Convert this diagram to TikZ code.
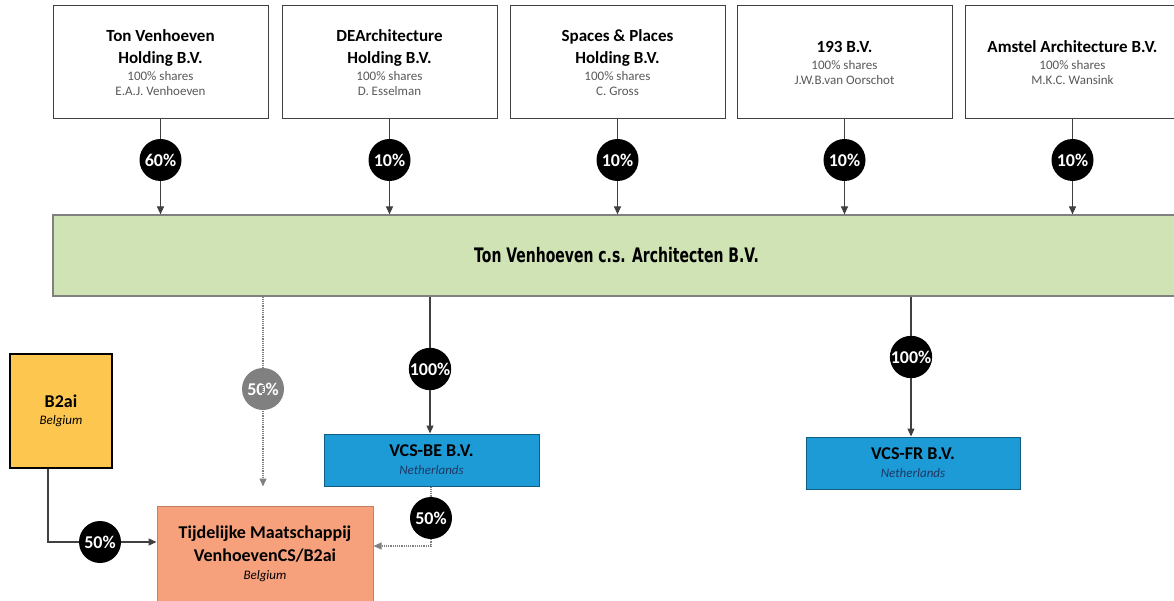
\documentclass[tikz,border=0pt]{standalone}
\usepackage{fontspec}
\setmainfont{Carlito}
\newfontfamily\bannerfont{DejaVu Sans}
\usepackage{graphicx}
\usepackage{tikz}
\usetikzlibrary{positioning,calc,arrows.meta}
\usepackage{xcolor}
\definecolor{boxline}{RGB}{64,64,64}
\definecolor{infogray}{RGB}{89,89,89}
\definecolor{linegray}{RGB}{64,64,64}
\definecolor{dotgray}{RGB}{128,128,128}
\definecolor{vcsgreen}{RGB}{208,227,180}
\definecolor{bgyellow}{RGB}{253,199,79}
\definecolor{tmsalmon}{RGB}{246,160,124}
\definecolor{vcsblue}{RGB}{28,155,214}
\definecolor{navytext}{RGB}{31,56,100}

\newcommand{\hname}[1]{{\fontsize{17}{17}\selectfont\bfseries #1}}
\newcommand{\hinfo}[1]{{\color{infogray}#1}}
\newcommand{\cname}[1]{{\fontsize{18}{18}\selectfont\bfseries #1}}
\newcommand{\cinfo}[1]{{\itshape #1}}

\tikzset{
  holding/.style={draw=boxline, fill=white, line width=1pt, minimum width=215pt,
    minimum height=113pt, align=center, inner sep=0pt, font=\fontsize{13}{15}\selectfont},
  sub/.style={draw=boxline, line width=1pt, align=center, inner sep=0pt,
    font=\fontsize{13}{15}\selectfont},
  share/.style={circle, fill=black, text=white, minimum size=42pt, inner sep=0pt,
    font=\fontsize{18}{18}\selectfont\bfseries},
  conn/.style={draw=linegray, line width=1.2pt},
  dotconn/.style={draw=dotgray, line width=1.2pt, densely dotted},
  arr/.style={-{Triangle[length=8pt,width=7pt]}},
}

\begin{document}
\begin{tikzpicture}[x=1pt,y=-1pt]
\useasboundingbox (0,0) rectangle (1174,601);
\clip (0,0) rectangle (1174,601);

% Holdings
\node[holding] (h1) at (160.5,62.5) {\hname{Ton Venhoeven}\\[7pt]\hname{Holding B.V.}\\[2pt]\hinfo{100\% shares}\\\hinfo{E.A.J. Venhoeven}};
\node[holding] (h2) at (389.5,62.5) {\hname{DEArchitecture}\\[7pt]\hname{Holding B.V.}\\[2pt]\hinfo{100\% shares}\\\hinfo{D. Esselman}};
\node[holding] (h3) at (617.5,62.5) {\hname{Spaces \& Places}\\[7pt]\hname{Holding B.V.}\\[2pt]\hinfo{100\% shares}\\\hinfo{C. Gross}};
\node[holding] (h4) at (844.5,62.5) {\hname{193 B.V.}\\[2pt]\hinfo{100\% shares}\\\hinfo{J.W.B.van Oorschot}};
\node[holding] (h5) at (1072.5,62.5) {\hname{Amstel Architecture B.V.}\\[2pt]\hinfo{100\% shares}\\\hinfo{M.K.C. Wansink}};

% Main company
\node[draw=dotgray, fill=vcsgreen, line width=1.2pt, minimum width=1127pt, minimum height=81pt, inner sep=0pt] (tv) at (616.5,255.5)
  {\bannerfont\fontsize{20}{20}\selectfont\bfseries\scalebox{0.7}[1]{Ton Venhoeven c.s. Architecten B.V.}};

% Shares of the holdings
\node[share] (p1) at (160.5,160) {60\%};
\node[share] (p2) at (389.5,160) {10\%};
\node[share] (p3) at (617.5,160) {10\%};
\node[share] (p4) at (844.5,160) {10\%};
\node[share] (p5) at (1072.5,160) {10\%};

\draw[conn] (h1) -- (p1);
\draw[conn] (h2) -- (p2);
\draw[conn] (h3) -- (p3);
\draw[conn] (h4) -- (p4);
\draw[conn] (h5) -- (p5);
\draw[conn,arr] (p1) -- (p1 |- tv.north);
\draw[conn,arr] (p2) -- (p2 |- tv.north);
\draw[conn,arr] (p3) -- (p3 |- tv.north);
\draw[conn,arr] (p4) -- (p4 |- tv.north);
\draw[conn,arr] (p5) -- (p5 |- tv.north);

% Subsidiaries
\node[sub, draw=black, line width=2.2pt, fill=bgyellow, minimum width=102pt, minimum height=114pt] (b2) at (61,411)
  {\cname{B2ai}\\[2pt]\cinfo{Belgium}};
\node[sub, draw=tmsalmon!80!black, fill=tmsalmon, minimum width=216pt, minimum height=95pt] (tm) at (265,553.5)
  {\cname{Tijdelijke Maatschappij}\\[6pt]\cname{VenhoevenCS/B2ai}\\[3pt]\cinfo{Belgium}};
\node[sub, draw=vcsblue!60!black, fill=vcsblue, minimum width=215pt, minimum height=52pt] (be) at (431.5,460)
  {\cname{VCS-BE B.V.}\\[3pt]\textcolor{navytext}{\cinfo{Netherlands}}};
\node[sub, draw=vcsblue!60!black, fill=vcsblue, minimum width=214pt, minimum height=52pt] (fr) at (913,463)
  {\cname{VCS-FR B.V.}\\[3pt]\textcolor{navytext}{\cinfo{Netherlands}}};

% Shares of the subsidiaries
\node[share, fill=dotgray] (g50) at (263,389) {50\%};
\node[share] (pbe) at (430,369) {100\%};
\node[share] (pfr) at (911,357) {100\%};
\node[share] (pbt) at (431,518) {50\%};
\node[share] (pb2) at (100,542) {50\%};

\draw[dotconn,arr,shorten >=19pt] (g50 |- tv.south) -- (g50 |- tm.north);
\draw[conn] (pbe |- tv.south) -- (pbe);
\draw[conn,arr] (pbe) -- (pbe |- be.north);
\draw[conn] (pfr |- tv.south) -- (pfr);
\draw[conn,arr] (pfr) -- (pfr |- fr.north);
\draw[conn] ([xshift=-13pt]b2.south) |- (pb2);
\draw[conn,arr] (pb2) -- (pb2 -| tm.west);
\draw[dotconn] (pbt |- be.south) -- (pbt);
\draw[dotconn,arr] (pbt) |- ($(tm.east)+(0,-7.5)$);
\end{tikzpicture}
\end{document}
